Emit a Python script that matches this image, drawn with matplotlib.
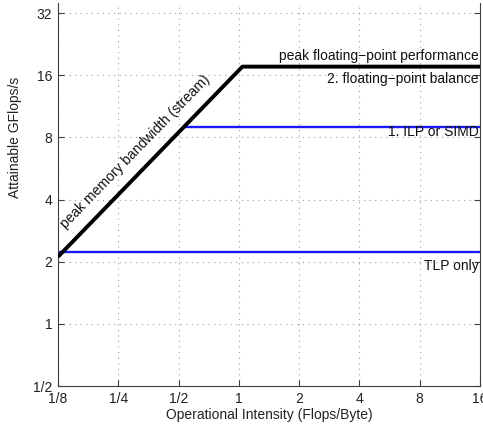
import matplotlib
matplotlib.use('Agg')
import matplotlib.pyplot as plt

plt.rcParams['font.family'] = ['Liberation Sans', 'DejaVu Sans']

# roofline data
x_ticks = [1/8, 1/4, 1/2, 1, 2, 4, 8, 16]
x_tick_labels = ['1/8', '1/4', '1/2', '1', '2', '4', '8', '16']
y_ticks = [1/2, 1, 2, 4, 8, 16, 32]
y_tick_labels = ['1/2', '1', '2', '4', '8', '16', '32']

bandwidth = 16.9      # GB/s (stream)
peak_flops = 17.6     # GFlops/s
ilp_ceiling = 8.95    # 1. ILP or SIMD
tlp_ceiling = 2.22    # TLP only
x_min, x_max = 1/8, 16

fig = plt.figure(figsize=(4.83, 4.30), dpi=100)
ax = fig.add_axes([58/483, 44/430, 422/483, 383/430])

ridge = peak_flops / bandwidth
ax.plot([x_min, ridge, x_max], [bandwidth * x_min, peak_flops, peak_flops],
        color='black', lw=2.8, solid_capstyle='butt', zorder=3)
ax.plot([ilp_ceiling / bandwidth, x_max], [ilp_ceiling, ilp_ceiling],
        color='#1a1aff', lw=1.7, zorder=2)
ax.plot([x_min, x_max], [tlp_ceiling, tlp_ceiling],
        color='#1a1aff', lw=1.7, zorder=2)

ax.set_xscale('log', base=2)
ax.set_yscale('log', base=2)
ax.set_xlim(x_min, x_max)
ax.set_ylim(0.5, 32 * 2 ** (10 / 62))
ax.set_xticks(x_ticks)
ax.set_xticklabels(x_tick_labels)
ax.set_yticks(y_ticks)
ax.set_yticklabels(y_tick_labels)
ax.minorticks_off()
ax.tick_params(direction='in', length=4, width=0.8, colors='#404040',
               labelcolor='#222222', labelsize=10, right=True, pad=4)
ax.grid(True, linestyle=(0, (1, 4)), color='#9a9a9a', lw=0.8)
for side in ['left', 'right', 'bottom']:
    ax.spines[side].set_color('#404040')
    ax.spines[side].set_linewidth(0.8)
ax.spines['top'].set_visible(False)

ax.set_xlabel('Operational Intensity (Flops/Byte)', fontsize=10, color='#222222', labelpad=2)
ax.set_ylabel('Attainable GFlops/s', fontsize=10, color='#222222')
ax.yaxis.set_label_coords(-0.085, 0.65)

txt = dict(fontsize=10, color='#111111', ha='right', va='center')
ax.text(15.8, 19.8, 'peak floating\u2212point performance', **txt)
ax.text(15.8, 15.3, '2. floating\u2212point balance', **txt)
ax.text(15.8, 8.46, '1. ILP or SIMD', **txt)
ax.text(15.8, 1.91, 'TLP only', **txt)
ax.text(0.303, 6.8, 'peak memory bandwidth (stream)', fontsize=10, color='#111111',
        ha='center', va='center', rotation=45.8, rotation_mode='anchor')

fig.savefig('out.png', dpi=100)
